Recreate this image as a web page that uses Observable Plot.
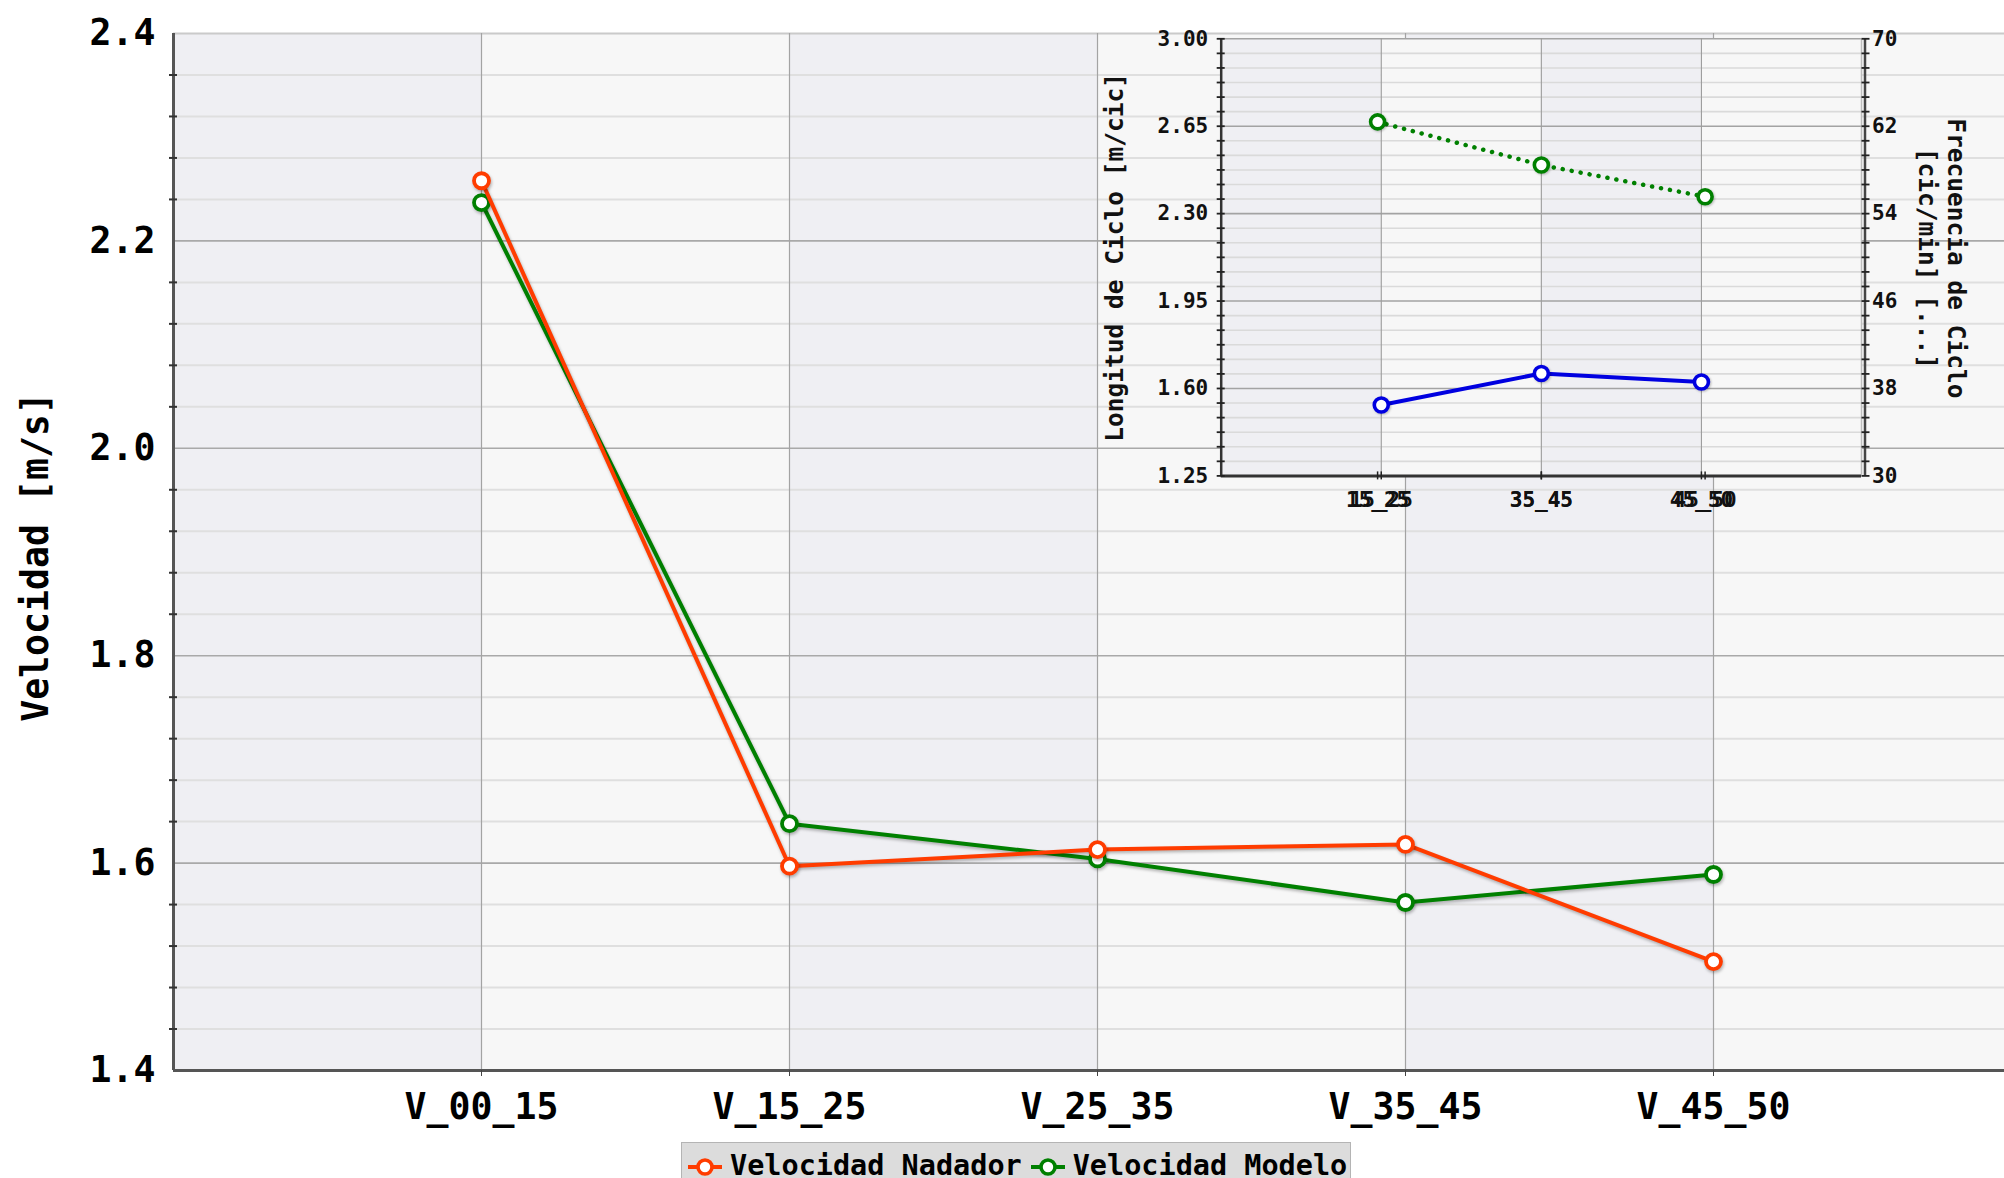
<!DOCTYPE html>
<html>
<head>
<meta charset="utf-8">
<script src="https://cdn.jsdelivr.net/npm/d3@7"></script>
<script src="https://cdn.jsdelivr.net/npm/@observablehq/plot@0.6"></script>
<style>
  html, body { margin: 0; padding: 0; background: #fff; overflow: hidden; width: 2004px; height: 1178px; }
  #root { position: relative; width: 2004px; height: 1178px; overflow: hidden; }
  #main { position: absolute; left: 0; top: 0; }
  #inset { position: absolute; left: 1090px; top: 30px; }
  #legend {
    position: absolute; left: 681px; top: 1142px; width: 670px; height: 46px;
    box-sizing: border-box; background: #dcdcdc; border: 1px solid #b4b4b4;
    font: bold 28.5px "DejaVu Sans Mono", monospace; color: #000;
    padding: 5px 0 0 5px; white-space: nowrap; line-height: 36px;
  }
  #legend span { display: inline-block; vertical-align: top; }
  #legend svg { display: inline-block; vertical-align: top; margin-top: 8px; }
</style>
</head>
<body>
<div id="root">
  <div id="main"></div>
  <div id="inset"></div>
  <div id="legend"></div>
</div>
<script>
// ---------------- data ----------------
const categories = ["V_00_15", "V_15_25", "V_25_35", "V_35_45", "V_45_50"];
const velocidadNadador = [2.258, 1.597, 1.613, 1.618, 1.505];
const velocidadModelo  = [2.237, 1.638, 1.604, 1.562, 1.589];
const yMajorTicks = [1.4, 1.6, 1.8, 2.0, 2.2, 2.4];

const insetCategories = ["15_25", "35_45", "45_50"];
const longitudCiclo   = [1.534, 1.660, 1.626];   // m/cic (left axis)
const frecuenciaCiclo = [62.4, 58.45, 55.55];    // cic/min (right axis)
const insetLeftTicks  = [1.25, 1.60, 1.95, 2.30, 2.65, 3.00];
const insetRightTicks = [30, 38, 46, 54, 62, 70];

const seriesNames = ["Velocidad Nadador", "Velocidad Modelo"];
const colorNadador = "#ff3c00";
const colorModelo = "#008000";
const colorLongitud = "#0000e0";
const bandDark = "#efeff3";
const bandLight = "#f7f7f7";
const FONT = "'DejaVu Sans Mono', monospace";

// ---------------- helpers ----------------
function subdivide(majors, n) {
  const out = [];
  for (let k = 0; k < majors.length - 1; k++) {
    const a = majors[k], b = majors[k + 1];
    for (let j = 1; j < n; j++) out.push(a + (b - a) * j / n);
  }
  return out;
}

// ---------------- main chart ----------------
const rows = categories.map((c, i) => ({cat: c, pos: i + 1, nadador: velocidadNadador[i], modelo: velocidadModelo[i]}));
const nBands = categories.length + 1;
const bands = d3.range(nBands).map(i => ({x1: i, x2: i + 1, fill: i % 2 === 0 ? bandDark : bandLight}));
const yMinor = subdivide(yMajorTicks, 5);
const catPos = rows.map(d => d.pos);
const yLo = yMajorTicks[0], yHi = yMajorTicks[yMajorTicks.length - 1];

const mainPlot = Plot.plot({
  width: 2004, height: 1140,
  marginLeft: 173, marginRight: 0, marginTop: 33, marginBottom: 70,
  x: {domain: [0, nBands], range: [173, 173 + nBands * 308]},
  y: {domain: [yLo, yHi]},
  style: {fontFamily: FONT, background: "transparent", maxWidth: "none", overflow: "hidden"},
  marks: [
    Plot.rect(bands, {x1: "x1", x2: "x2", y1: yLo, y2: yHi, fill: "fill"}),
    Plot.ruleY(yMinor, {stroke: "#dfdfdf", strokeWidth: 2}),
    Plot.ruleY(yMajorTicks.slice(1, -1), {stroke: "#a9a9a9", strokeWidth: 1.6}),
    Plot.ruleY([yHi], {stroke: "#cacaca", strokeWidth: 2}),
    Plot.ruleX(catPos, {stroke: "#a3a3a3", strokeWidth: 1.2}),
    Plot.ruleX([0], {stroke: "#555", strokeWidth: 3}),
    Plot.ruleY([yLo], {stroke: "#555", strokeWidth: 3}),
    Plot.axisY(yMinor, {tickSize: 8, dx: 4, tickFormat: () => "", stroke: "#333", strokeWidth: 2}),
    Plot.axisY(yMajorTicks, {tickSize: 0, tickPadding: 18, fontSize: 36.5, fontWeight: "bold", tickFormat: d3.format(".1f")}),
    Plot.axisX(catPos, {tickSize: 6, tickPadding: 17, fontSize: 36.5, fontWeight: "bold", stroke: "#444",
      tickFormat: p => categories[p - 1]}),
    Plot.text(["Velocidad [m/s]"], {frameAnchor: "left", textAnchor: "middle", dx: -137, dy: 5, rotate: -90,
      fontSize: 36.5, fontWeight: "bold", fill: "#000"}),
    Plot.line(rows, {x: "pos", y: "modelo", stroke: colorModelo, strokeWidth: 4}),
    Plot.dot(rows, {x: "pos", y: "modelo", r: 7.5, fill: "white", stroke: colorModelo, strokeWidth: 3.8}),
    Plot.line(rows, {x: "pos", y: "nadador", stroke: colorNadador, strokeWidth: 4}),
    Plot.dot(rows, {x: "pos", y: "nadador", r: 7.5, fill: "white", stroke: colorNadador, strokeWidth: 3.8})
  ]
});
mainPlot.querySelectorAll('g[aria-label="line"], g[aria-label="dot"]').forEach(g => {
  g.style.filter = "drop-shadow(1px 2px 1.5px rgba(0,0,0,0.28))";
});
document.getElementById("main").appendChild(mainPlot);

// ---------------- inset chart ----------------
const iLo = insetLeftTicks[0], iHi = insetLeftTicks[insetLeftTicks.length - 1];
const rLo = insetRightTicks[0], rHi = insetRightTicks[insetRightTicks.length - 1];
const toLeft = f => iLo + (f - rLo) * (iHi - iLo) / (rHi - rLo);
const nIB = insetCategories.length + 1;
const iBands = d3.range(nIB).map(i => ({x1: i, x2: i + 1, fill: i % 2 === 0 ? bandDark : bandLight}));
const iMinor = subdivide(insetLeftTicks, 6);
const greenStretch = 1.023; // second x-axis of the frequency series is slightly wider
const iRows = insetCategories.map((c, i) => ({
  cat: c, pos: i + 1, posF: 2 + (i + 1 - 2) * greenStretch,
  longitud: longitudCiclo[i], frecuencia: toLeft(frecuenciaCiclo[i])
}));
const iPos = iRows.map(d => d.pos);
const iPosF = iRows.map(d => d.posF);

const insetPlot = Plot.plot({
  width: 914, height: 490,
  marginLeft: 130.7, marginRight: 143, marginTop: 8.3, marginBottom: 44.6,
  x: {domain: [0, nIB]},
  y: {domain: [iLo, iHi]},
  style: {fontFamily: FONT, background: "transparent", maxWidth: "none", overflow: "visible"},
  marks: [
    Plot.rect(iBands, {x1: "x1", x2: "x2", y1: iLo, y2: iHi, fill: "fill"}),
    Plot.ruleY(iMinor, {stroke: "#dadada", strokeWidth: 1.6}),
    Plot.ruleY(insetLeftTicks.slice(1), {stroke: "#a3a3a3", strokeWidth: 1.6}),
    Plot.ruleX(iPos, {stroke: "#9c9c9c", strokeWidth: 1.1}),
    Plot.ruleX([nIB], {stroke: "#bdbdbd", strokeWidth: 1.5}),
    Plot.ruleX([0], {stroke: "#333", strokeWidth: 2.5}),
    Plot.ruleX([nIB], {dx: 3.5, stroke: "#444", strokeWidth: 2.5}),
    Plot.ruleY([iLo], {stroke: "#333", strokeWidth: 3}),
    Plot.axisY(iMinor.concat(insetLeftTicks), {tickSize: 8, dx: 4, tickFormat: () => "", stroke: "#222", strokeWidth: 1.8}),
    Plot.axisY(iMinor.concat(insetLeftTicks), {anchor: "right", tickSize: 8, dx: -0.5, tickFormat: () => "", stroke: "#222", strokeWidth: 1.8}),
    Plot.axisX(iPos, {tickSize: 8, dy: -4, tickFormat: () => "", stroke: "#222", strokeWidth: 1.5}),
    Plot.axisX(iPosF, {tickSize: 8, dy: -4, tickFormat: () => "", stroke: "#222", strokeWidth: 1.5}),
    Plot.text(insetLeftTicks, {x: 0, y: d => d, text: d => d.toFixed(2), textAnchor: "end", dx: -13,
      fontSize: 21, fontWeight: "bold", fill: "#111"}),
    Plot.text(insetRightTicks, {x: nIB, y: d => toLeft(d), text: d => String(d), textAnchor: "start", dx: 10.5,
      fontSize: 21, fontWeight: "bold", fill: "#111"}),
    Plot.text(iRows, {x: "pos", y: iLo, text: "cat", lineAnchor: "top", dy: 16.5,
      fontSize: 21, fontWeight: "bold", fill: "#111"}),
    Plot.text(iRows, {x: "posF", y: iLo, text: "cat", lineAnchor: "top", dy: 16.5,
      fontSize: 21, fontWeight: "bold", fill: "#111"}),
    Plot.text(["Longitud de Ciclo [m/cic]"], {frameAnchor: "left", textAnchor: "middle", dx: -105.7, dy: 0, rotate: -90,
      fontSize: 24.5, fontWeight: "bold", fill: "#111"}),
    Plot.text(["Frecuencia de Ciclo\n[cic/min] [...]"], {frameAnchor: "right", textAnchor: "middle", dx: 81.5, dy: 1, rotate: 90,
      lineHeight: 1.18, fontSize: 24.5, fontWeight: "bold", fill: "#111"}),
    Plot.line(iRows, {x: "posF", y: "frecuencia", stroke: colorModelo, strokeWidth: 4.5,
      strokeDasharray: "0.1,9", strokeLinecap: "round"}),
    Plot.dot(iRows, {x: "posF", y: "frecuencia", r: 7, fill: "white", stroke: colorModelo, strokeWidth: 3.6}),
    Plot.line(iRows, {x: "pos", y: "longitud", stroke: colorLongitud, strokeWidth: 4}),
    Plot.dot(iRows, {x: "pos", y: "longitud", r: 7, fill: "white", stroke: colorLongitud, strokeWidth: 3.6})
  ]
});
insetPlot.querySelectorAll('g[aria-label="dot"]').forEach(g => {
  g.style.filter = "drop-shadow(1px 1.5px 1px rgba(0,0,0,0.25))";
});
document.getElementById("inset").appendChild(insetPlot);

// ---------------- legend (HTML, below the SVG) ----------------
const legend = document.getElementById("legend");
const legendItems = [[seriesNames[0], colorNadador], [seriesNames[1], colorModelo]];
legendItems.forEach(([name, col], k) => {
  const ns = "http://www.w3.org/2000/svg";
  const svg = document.createElementNS(ns, "svg");
  svg.setAttribute("width", 36); svg.setAttribute("height", 22);
  if (k > 0) svg.style.marginLeft = "8px";
  svg.innerHTML = `<line x1="1" x2="35" y1="11" y2="11" stroke="${col}" stroke-width="4"/>` +
    `<circle cx="18" cy="11" r="7" fill="white" stroke="${col}" stroke-width="3.6"/>`;
  legend.appendChild(svg);
  const span = document.createElement("span");
  span.textContent = name;
  span.style.marginLeft = "7px";
  legend.appendChild(span);
});
</script>
</body>
</html>
